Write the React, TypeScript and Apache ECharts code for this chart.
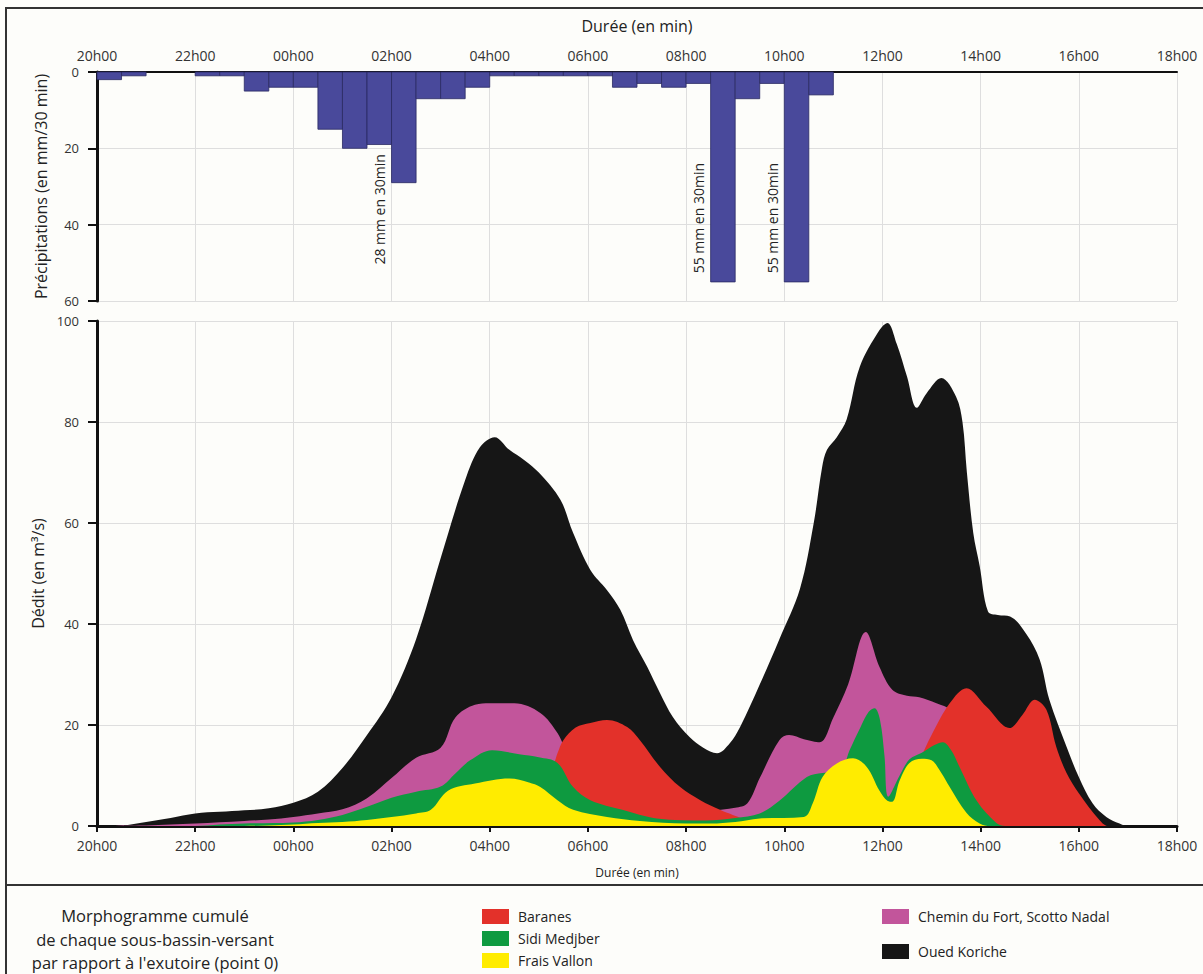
import React, { useEffect, useRef } from "react";
import * as echarts from "echarts";

const FONT = "'Open Sans', 'Noto Sans', sans-serif";

// x positions are hours elapsed since 20h00
const TIME_LABELS = ["20h00", "22h00", "00h00", "02h00", "04h00", "06h00", "08h00", "10h00", "12h00", "14h00", "16h00", "18h00"];

// precipitation, mm per 30 min, one value per half-hour slot from 20h00
const PRECIP = [2, 1, 0, 0, 1, 1, 5, 4, 4, 15, 20, 19, 29, 7, 7, 4, 1, 1, 1, 1, 1, 4, 3, 4, 3, 55, 7, 3, 55, 6];
const PRECIP_NOTES = [
  { slot: 12, text: "28 mm en 30min", at: 36 },
  { slot: 25, text: "55 mm en 30min", at: 38.3 },
  { slot: 28, text: "55 mm en 30min", at: 38.3 },
];

// discharge (m3/s), [hours since 20h00, value]
const OUED_KORICHE = [
  [0, 0], [0.5, 0.1], [1, 0.8], [1.5, 1.6], [2, 2.5], [2.5, 2.8], [3, 3.1], [3.5, 3.5], [4, 4.6], [4.5, 6.8],
  [5, 11.5], [5.5, 18], [6, 25.5], [6.5, 37], [7, 53], [7.5, 68.5], [7.8, 75], [8.1, 77], [8.4, 74.5], [8.7, 72.5],
  [9, 70], [9.44, 64.6], [9.7, 58], [10.05, 50.7], [10.39, 46.7], [10.66, 42.8], [10.92, 36.8], [11.21, 31.5],
  [11.47, 26.3], [11.73, 21.6], [12.07, 17.6], [12.35, 15.5], [12.63, 14.4], [12.89, 16.4], [13.1, 19.6],
  [13.5, 28], [13.9, 37], [14.32, 47], [14.6, 60], [14.77, 71], [14.87, 74.5], [15.07, 77], [15.27, 80.5],
  [15.54, 91], [15.94, 98.2], [16.1, 99.6], [16.29, 95.5], [16.5, 89], [16.7, 82.8], [16.9, 85.7], [17.2, 88.7],
  [17.5, 85], [17.63, 80], [17.72, 70], [17.85, 58], [17.98, 51.5], [18.15, 42.5], [18.35, 41.8], [18.6, 41.5],
  [18.93, 38], [19.2, 33], [19.4, 25], [19.75, 15.7], [20, 9.7], [20.28, 4.5], [20.56, 1.8], [20.83, 0.5], [21, 0],
  [22, 0],
];
const CHEMIN_DU_FORT = [
  [0, 0], [1, 0.1], [1.5, 0.3], [2, 0.5], [3, 1], [3.5, 1.3], [4, 1.8], [4.5, 2.5], [5, 3.3], [5.5, 5.5], [6, 9.5],
  [6.5, 13.5], [7, 15.5], [7.3, 21.5], [7.7, 24], [8, 24.3], [8.5, 24.3], [9.03, 22.4], [9.38, 18.4], [9.6, 14],
  [10, 9], [10.5, 5], [11, 3.5], [11.5, 2.8], [12, 2.5], [12.5, 3], [13, 3.6], [13.25, 4.5], [13.5, 9.5], [13.9, 17],
  [14.1, 18], [14.4, 17.2], [14.72, 16.6], [15, 21.5], [15.3, 28], [15.66, 38.4], [15.94, 31.5], [16.2, 27],
  [16.5, 25.8], [16.75, 25.5], [17.1, 24.3], [17.4, 23], [17.7, 20], [18, 15], [18.5, 7], [19, 2.5], [19.5, 0.5],
  [20, 0], [22, 0],
];
const BARANES = [
  [0, 0], [8.3, 0], [8.7, 1.5], [9, 5], [9.3, 12], [9.38, 14.4], [9.5, 17], [9.75, 19.5], [10.05, 20.4], [10.39, 21],
  [10.8, 19.6], [11.06, 17], [11.47, 11.7], [11.88, 7.7], [12.29, 5.1], [12.69, 3.2], [12.95, 2.2], [13.3, 1],
  [13.7, 0], [16, 0], [16.4, 5], [16.76, 13], [17, 18], [17.37, 24.3], [17.71, 27.3], [18.12, 23.6], [18.59, 19.4],
  [18.85, 22], [19.1, 25], [19.34, 23], [19.54, 15.7], [19.75, 10.5], [20, 6.5], [20.42, 1.2], [20.6, 0], [22, 0],
];
const SIDI_MEDJBER = [
  [0, 0], [2, 0], [2.5, 0.3], [3, 0.5], [4, 0.7], [4.5, 1.2], [5, 2.2], [5.5, 3.8], [6, 5.6], [6.5, 6.8], [7, 7.8],
  [7.3, 10.4], [7.6, 13], [8.05, 15], [8.6, 14.2], [9, 13.6], [9.38, 12.5], [9.7, 7.7], [10.05, 5.1], [10.7, 3.2],
  [11.4, 1.5], [12.4, 1.1], [13, 1.6], [13.5, 2.5], [13.9, 5], [14.46, 9.7], [14.78, 10.5], [15.13, 10.7],
  [15.33, 15], [15.55, 19.5], [15.72, 22.6], [15.84, 23.3], [15.95, 21], [16.04, 14], [16.12, 5.8], [16.35, 10],
  [16.55, 13.2], [16.8, 14.5], [17.05, 16], [17.23, 16.6], [17.4, 15], [17.57, 11.7], [17.92, 5], [18.32, 0.6],
  [18.5, 0], [22, 0],
];
const FRAIS_VALLON = [
  [0, 0], [3, 0], [3.5, 0.1], [4, 0.3], [4.5, 0.6], [5, 0.8], [5.5, 1.2], [6, 1.8], [6.5, 2.5], [6.8, 3.2],
  [7.15, 7], [7.7, 8.4], [8.4, 9.4], [8.8, 8.6], [9.03, 7.7], [9.38, 5.1], [9.7, 3.2], [10.39, 1.8], [11.06, 1],
  [12, 0.5], [12.5, 0.5], [13, 0.8], [13.5, 1.5], [14.4, 1.8], [14.58, 4.5], [14.78, 9.7], [15.07, 12.4],
  [15.4, 13.4], [15.68, 11.7], [15.94, 7], [16.1, 5], [16.2, 4.8], [16.35, 9], [16.55, 12.5], [16.8, 13.3], [17, 13],
  [17.2, 10.5], [17.37, 7.7], [17.71, 2.6], [17.98, 0.5], [18.2, 0], [22, 0],
];

const SERIES = [
  { name: "Oued Koriche", data: OUED_KORICHE, color: "#161616" },
  { name: "Chemin du Fort, Scotto Nadal", data: CHEMIN_DU_FORT, color: "#c2559b" },
  { name: "Baranes", data: BARANES, color: "#e3312a" },
  { name: "Sidi Medjber", data: SIDI_MEDJBER, color: "#0e9a40" },
  { name: "Frais Vallon", data: FRAIS_VALLON, color: "#ffec00" },
];

// legend layout: [name, left, top]
const LEGEND_ITEMS: [string, number, number][] = [
  ["Baranes", 477, 904],
  ["Sidi Medjber", 477, 926],
  ["Frais Vallon", 477, 948],
  ["Chemin du Fort, Scotto Nadal", 877, 904],
  ["Oued Koriche", 877, 939],
];

const tickLabel = (v: number) => TIME_LABELS[Math.round(v / 2)] ?? "";

export default function App() {
  const ref = useRef<HTMLDivElement>(null);

  useEffect(() => {
    if (!ref.current) return;
    const chart = echarts.init(ref.current, undefined, { renderer: "svg" });

    const gridLine = { show: true, lineStyle: { color: "#dedede", width: 1 } };

    chart.setOption({
      animation: false,
      backgroundColor: "#fdfdfa",
      grid: [
        { left: 97, top: 72, width: 1080, height: 229 },
        { left: 97, top: 321, width: 1080, height: 505 },
      ],
      xAxis: [
        {
          gridIndex: 0,
          type: "value",
          position: "top",
          min: 0,
          max: 22,
          interval: 2,
          name: "Durée (en min)",
          nameLocation: "middle",
          nameGap: 38,
          nameTextStyle: { fontSize: 16, fontFamily: FONT, color: "#222" },
          axisLine: { show: true, onZero: false, lineStyle: { color: "#111", width: 2 } },
          axisTick: { show: false },
          axisLabel: { formatter: tickLabel, fontSize: 14, fontFamily: FONT, color: "#333", margin: 10 },
          splitLine: gridLine,
        },
        {
          gridIndex: 1,
          type: "value",
          position: "bottom",
          min: 0,
          max: 22,
          interval: 2,
          name: "Durée (en min)",
          nameLocation: "middle",
          nameGap: 40,
          nameTextStyle: { fontSize: 12, fontFamily: FONT, color: "#222" },
          axisLine: { show: true, onZero: false, lineStyle: { color: "#111", width: 3 } },
          axisTick: { show: true, inside: false, length: 6, lineStyle: { color: "#111", width: 2 } },
          axisLabel: { formatter: tickLabel, fontSize: 14, fontFamily: FONT, color: "#333", margin: 12 },
          splitLine: gridLine,
        },
      ],
      yAxis: [
        {
          gridIndex: 0,
          type: "value",
          inverse: true,
          min: 0,
          max: 60,
          interval: 20,
          name: "Précipitations (en mm/30 min)",
          nameLocation: "middle",
          nameRotate: 90,
          nameGap: 48,
          nameTextStyle: { fontSize: 16, fontFamily: FONT, color: "#222" },
          axisLine: { show: true, lineStyle: { color: "#111", width: 3 } },
          axisTick: { show: true, inside: false, length: 9, lineStyle: { color: "#111", width: 2 } },
          axisLabel: { fontSize: 13, fontFamily: FONT, color: "#333", margin: 18 },
          splitLine: gridLine,
        },
        {
          gridIndex: 1,
          type: "value",
          min: 0,
          max: 100,
          interval: 20,
          name: "Dédit (en m³/s)",
          nameLocation: "middle",
          nameRotate: 90,
          nameGap: 48,
          nameTextStyle: { fontSize: 16, fontFamily: FONT, color: "#222" },
          axisLine: { show: true, lineStyle: { color: "#111", width: 3 } },
          axisTick: { show: true, inside: false, length: 9, lineStyle: { color: "#111", width: 2 } },
          axisLabel: { fontSize: 13, fontFamily: FONT, color: "#333", margin: 18 },
          splitLine: gridLine,
        },
      ],
      legend: LEGEND_ITEMS.map(([name, left, top]) => ({
        data: [name],
        left,
        top,
        orient: "horizontal",
        icon: "rect",
        itemWidth: 27,
        itemHeight: 15,
        selectedMode: false,
        textStyle: { fontSize: 14, fontFamily: FONT, color: "#222", padding: [0, 0, 0, 4] },
      })),
      graphic: [
        {
          type: "rect",
          z: -1,
          shape: { x: 6, y: 8, width: 1210, height: 980 },
          style: { fill: "none", stroke: "#333", lineWidth: 2 },
        },
        {
          type: "line",
          shape: { x1: 6, y1: 885, x2: 1210, y2: 885 },
          style: { stroke: "#333", lineWidth: 2 },
        },
        {
          type: "text",
          x: 155,
          y: 904,
          style: {
            text: "Morphogramme cumulé\nde chaque sous-bassin-versant\npar rapport à l'exutoire (point 0)",
            fontSize: 16.5,
            lineHeight: 23.5,
            fontFamily: FONT,
            fill: "#222",
            align: "center",
            verticalAlign: "top",
          },
        },
      ],
      series: [
        {
          type: "custom",
          name: "Précipitations",
          xAxisIndex: 0,
          yAxisIndex: 0,
          clip: false,
          silent: true,
          data: PRECIP.map((v, i) => [i * 0.5, v]),
          renderItem: (params: any, api: any) => {
            const h = api.value(0);
            const v = api.value(1);
            const a = api.coord([h, 0]);
            const b = api.coord([h + 0.5, v]);
            const children: any[] = [];
            if (v > 0) {
              children.push({
                type: "rect",
                shape: { x: a[0], y: a[1], width: b[0] - a[0], height: b[1] - a[1] },
                style: { fill: "#49499b", stroke: "#2a2a62", lineWidth: 0.8 },
              });
            }
            const note = PRECIP_NOTES.find((n) => n.slot === params.dataIndex);
            if (note) {
              const c = api.coord([h, note.at]);
              children.push({
                type: "text",
                x: a[0] - 12,
                y: c[1],
                rotation: Math.PI / 2,
                style: {
                  text: note.text,
                  fontSize: 14,
                  fontFamily: FONT,
                  fill: "#222",
                  align: "center",
                  verticalAlign: "middle",
                },
              });
            }
            return { type: "group", children };
          },
        },
        ...SERIES.map((s) => ({
          type: "line",
          name: s.name,
          xAxisIndex: 1,
          yAxisIndex: 1,
          data: s.data,
          smooth: 0.35,
          symbol: "none",
          silent: true,
          itemStyle: { color: s.color },
          lineStyle: { color: s.color, width: 0 },
          areaStyle: { color: s.color, opacity: 1 },
        })),
      ],
    });

    return () => chart.dispose();
  }, []);

  return (
    <div
      ref={ref}
      style={{ position: "fixed", left: 0, top: 0, width: 1203, height: 974 }}
    />
  );
}
